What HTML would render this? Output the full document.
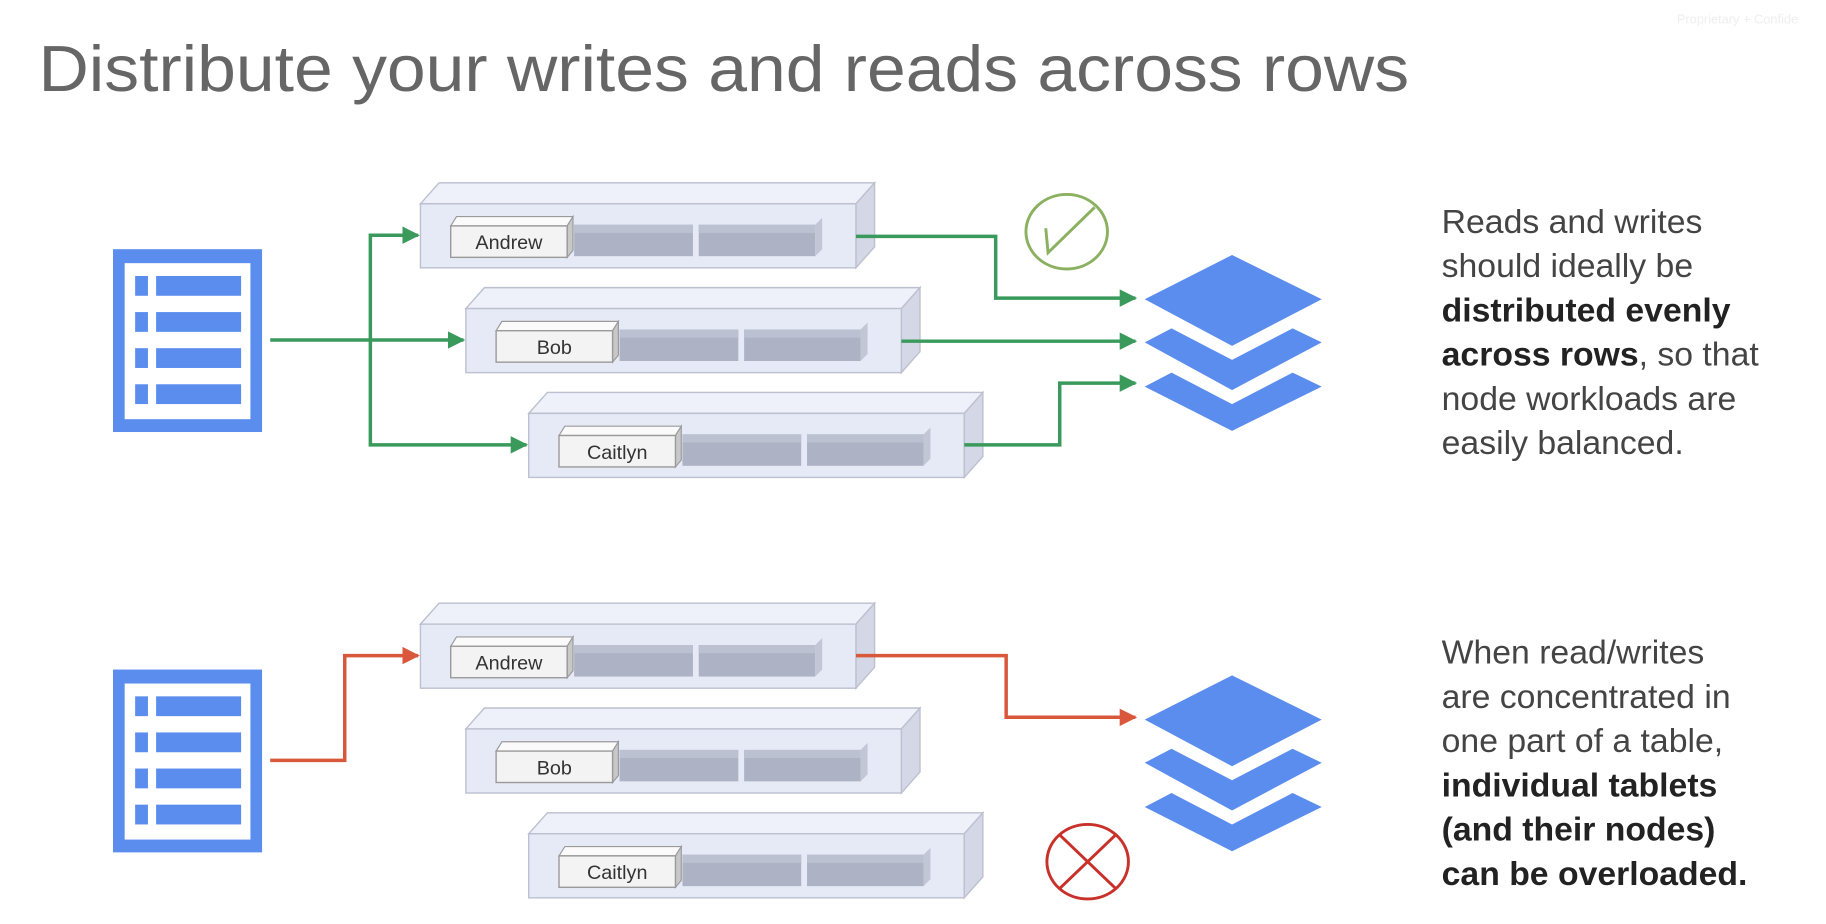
<!DOCTYPE html>
<html><head><meta charset="utf-8"><style>
html,body{margin:0;padding:0;background:#fff;}
svg{display:block;}
text{font-family:"Liberation Sans",Arial,sans-serif;}
</style></head><body>
<svg width="1826" height="924" viewBox="0 0 1568 793.5" xmlns="http://www.w3.org/2000/svg">
<defs>
<g id="box">
  <polygon points="0,0 16,-18 390,-18 374,0" fill="#eef0fa" stroke="#bcc0cf" stroke-width="1.2"/>
  <polygon points="374,0 390,-18 390,37 374,55" fill="#d3d7e6" stroke="#bcc0cf" stroke-width="1.2"/>
  <rect x="0" y="0" width="374" height="55" fill="#e6eaf7" stroke="#bcc0cf" stroke-width="1.2"/>
  <polygon points="26,19 31,11 131,11 126,19" fill="#fafafa" stroke="#9a9a9a" stroke-width="1"/>
  <polygon points="126,19 131,11 131,40 126,46" fill="#c8c8c8" stroke="#9a9a9a" stroke-width="1"/>
  <rect x="26" y="19" width="100" height="27" fill="#f3f3f3" stroke="#9a9a9a" stroke-width="1.2"/>
  <rect x="132" y="18" width="102" height="27" fill="#adb2c4"/>
  <rect x="132" y="18" width="102" height="7" fill="#bcc1d1"/>
  <rect x="239" y="18" width="100" height="27" fill="#adb2c4"/>
  <rect x="239" y="18" width="100" height="7" fill="#bcc1d1"/>
  <polygon points="339,18 345,12 345,39 339,45" fill="#c3c7d5"/>
</g>
<g id="tbl">
  <rect x="97" y="0" width="128" height="157" fill="#5b8def"/>
  <rect x="107" y="12" width="108" height="134" fill="#fff"/>
  <rect x="116" y="23" width="11" height="17" fill="#5b8def"/><rect x="134" y="23" width="73" height="17" fill="#5b8def"/>
  <rect x="116" y="54" width="11" height="17" fill="#5b8def"/><rect x="134" y="54" width="73" height="17" fill="#5b8def"/>
  <rect x="116" y="85" width="11" height="17" fill="#5b8def"/><rect x="134" y="85" width="73" height="17" fill="#5b8def"/>
  <rect x="116" y="116" width="11" height="17" fill="#5b8def"/><rect x="134" y="116" width="73" height="17" fill="#5b8def"/>
</g>
<g id="layers" fill="#5b8def">
  <polygon points="983,38 1058,0 1135,38 1058,78"/>
  <polygon points="983,75 1006,63 1058,90 1110,63 1135,75 1058,116"/>
  <polygon points="983,113 1006,101 1058,128 1110,101 1135,113 1058,151"/>
</g>
<marker id="ag" viewBox="0 0 10 10" refX="9" refY="5" markerWidth="5" markerHeight="5" orient="auto" markerUnits="strokeWidth"><path d="M0,0 L10,5 L0,10 z" fill="#3a9a5c"/></marker>
<marker id="ar" viewBox="0 0 10 10" refX="9" refY="5" markerWidth="5" markerHeight="5" orient="auto" markerUnits="strokeWidth"><path d="M0,0 L10,5 L0,10 z" fill="#d9573a"/></marker>
</defs>

<text x="33" y="78" font-size="56" fill="#666" textLength="1177" lengthAdjust="spacingAndGlyphs">Distribute your writes and reads across rows</text>
<text x="1440" y="20" font-size="11" fill="#eeeeee">Proprietary + Confide</text>

<use href="#tbl" transform="translate(0,214)"/>
<use href="#tbl" transform="translate(0,575)"/>

<use href="#box" transform="translate(361,175)"/>
<use href="#box" transform="translate(400,265)"/>
<use href="#box" transform="translate(454,355)"/>
<use href="#box" transform="translate(361,536)"/>
<use href="#box" transform="translate(400,626)"/>
<use href="#box" transform="translate(454,716)"/>

<g font-size="17" fill="#333" text-anchor="middle">
<text x="437" y="214">Andrew</text>
<text x="476" y="304">Bob</text>
<text x="530" y="394">Caitlyn</text>
<text x="437" y="575">Andrew</text>
<text x="476" y="665">Bob</text>
<text x="530" y="755">Caitlyn</text>
</g>

<use href="#layers" transform="translate(0,219)"/>
<use href="#layers" transform="translate(0,580)"/>

<g fill="none" stroke="#3a9a5c" stroke-width="3">
<path d="M232,292 H398" marker-end="url(#ag)"/>
<path d="M318,292 V202 H359" marker-end="url(#ag)"/>
<path d="M318,292 V382 H452" marker-end="url(#ag)"/>
<path d="M735,203 H855 V256 H975" marker-end="url(#ag)"/>
<path d="M774,293 H975" marker-end="url(#ag)"/>
<path d="M828,382 H910 V329 H975" marker-end="url(#ag)"/>
</g>
<g fill="none" stroke="#d9573a" stroke-width="3">
<path d="M232,653 H296 V563 H359" marker-end="url(#ar)"/>
<path d="M735,563 H864 V616 H975" marker-end="url(#ar)"/>
</g>

<ellipse cx="916" cy="199" rx="35" ry="32" fill="none" stroke="#8ab060" stroke-width="2.5"/>
<path d="M898,196 L900,217 L940,178" fill="none" stroke="#8ab060" stroke-width="2.5"/>
<ellipse cx="934" cy="740" rx="35" ry="32" fill="none" stroke="#c8312a" stroke-width="2.5"/>
<path d="M910,717 L958,763 M958,717 L910,763" stroke="#c8312a" stroke-width="2.5"/>

<g font-size="29" fill="#444">
<text x="1238" y="200">Reads and writes</text>
<text x="1238" y="238">should ideally be</text>
<text x="1238" y="276" font-weight="bold" fill="#222">distributed evenly</text>
<text x="1238" y="314"><tspan font-weight="bold" fill="#222">across rows</tspan>, so that</text>
<text x="1238" y="352">node workloads are</text>
<text x="1238" y="390">easily balanced.</text>
<text x="1238" y="570">When read/writes</text>
<text x="1238" y="608">are concentrated in</text>
<text x="1238" y="646">one part of a table,</text>
<g font-weight="bold" fill="#222">
<text x="1238" y="684">individual tablets</text>
<text x="1238" y="722">(and their nodes)</text>
<text x="1238" y="760">can be overloaded.</text>
</g>
</g>
</svg>
</body></html>
